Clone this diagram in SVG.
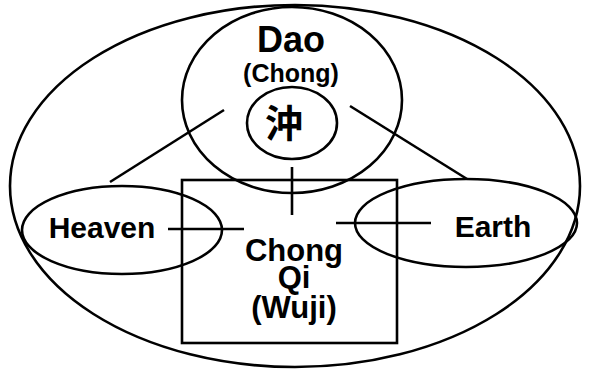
<svg xmlns="http://www.w3.org/2000/svg" width="589" height="369" viewBox="0 0 589 369">
<style>
.s{fill:none;stroke:#000;stroke-width:2.6}
.t{font-family:"Liberation Sans",Arial,sans-serif;font-weight:bold;fill:#000;text-anchor:middle}
.c{font-family:"Noto Sans CJK TC","Noto Sans CJK SC",sans-serif;font-weight:bold;fill:#000;text-anchor:middle}
</style>
<rect width="589" height="369" fill="#fff"/>
<g id="universe"><ellipse class="s" cx="295" cy="186" rx="285" ry="181"/></g>
<g id="dao">
<ellipse class="s" cx="292" cy="100" rx="110" ry="93"/>
<text class="t" x="291" y="52" font-size="36">Dao</text>
<text class="t" x="291" y="82" font-size="25">(Chong)</text>
</g>
<g id="chong-char">
<ellipse class="s" cx="292" cy="123" rx="45" ry="36"/>
<text class="c" x="284" y="137" font-size="38">沖</text>
</g>
<g id="chongqi">
<rect class="s" x="182" y="180" width="215" height="163"/>
<text class="t" x="294" y="261" font-size="31">Chong</text>
<text class="t" x="294" y="288" font-size="31">Qi</text>
<text class="t" x="294" y="318" font-size="31">(Wuji)</text>
</g>
<g id="heaven">
<ellipse class="s" cx="122" cy="230" rx="100" ry="44"/>
<text class="t" x="102" y="238" font-size="30">Heaven</text>
</g>
<g id="earth">
<ellipse class="s" cx="466" cy="223" rx="111" ry="44"/>
<text class="t" x="493" y="237" font-size="30">Earth</text>
</g>
<g id="connectors" class="s">
<line x1="292" y1="167" x2="292" y2="215"/>
<line x1="168" y1="229" x2="244" y2="229"/>
<line x1="336" y1="223" x2="431" y2="223"/>
<line x1="224" y1="110" x2="110" y2="182"/>
<line x1="350" y1="106" x2="467" y2="179"/>
</g>
</svg>
